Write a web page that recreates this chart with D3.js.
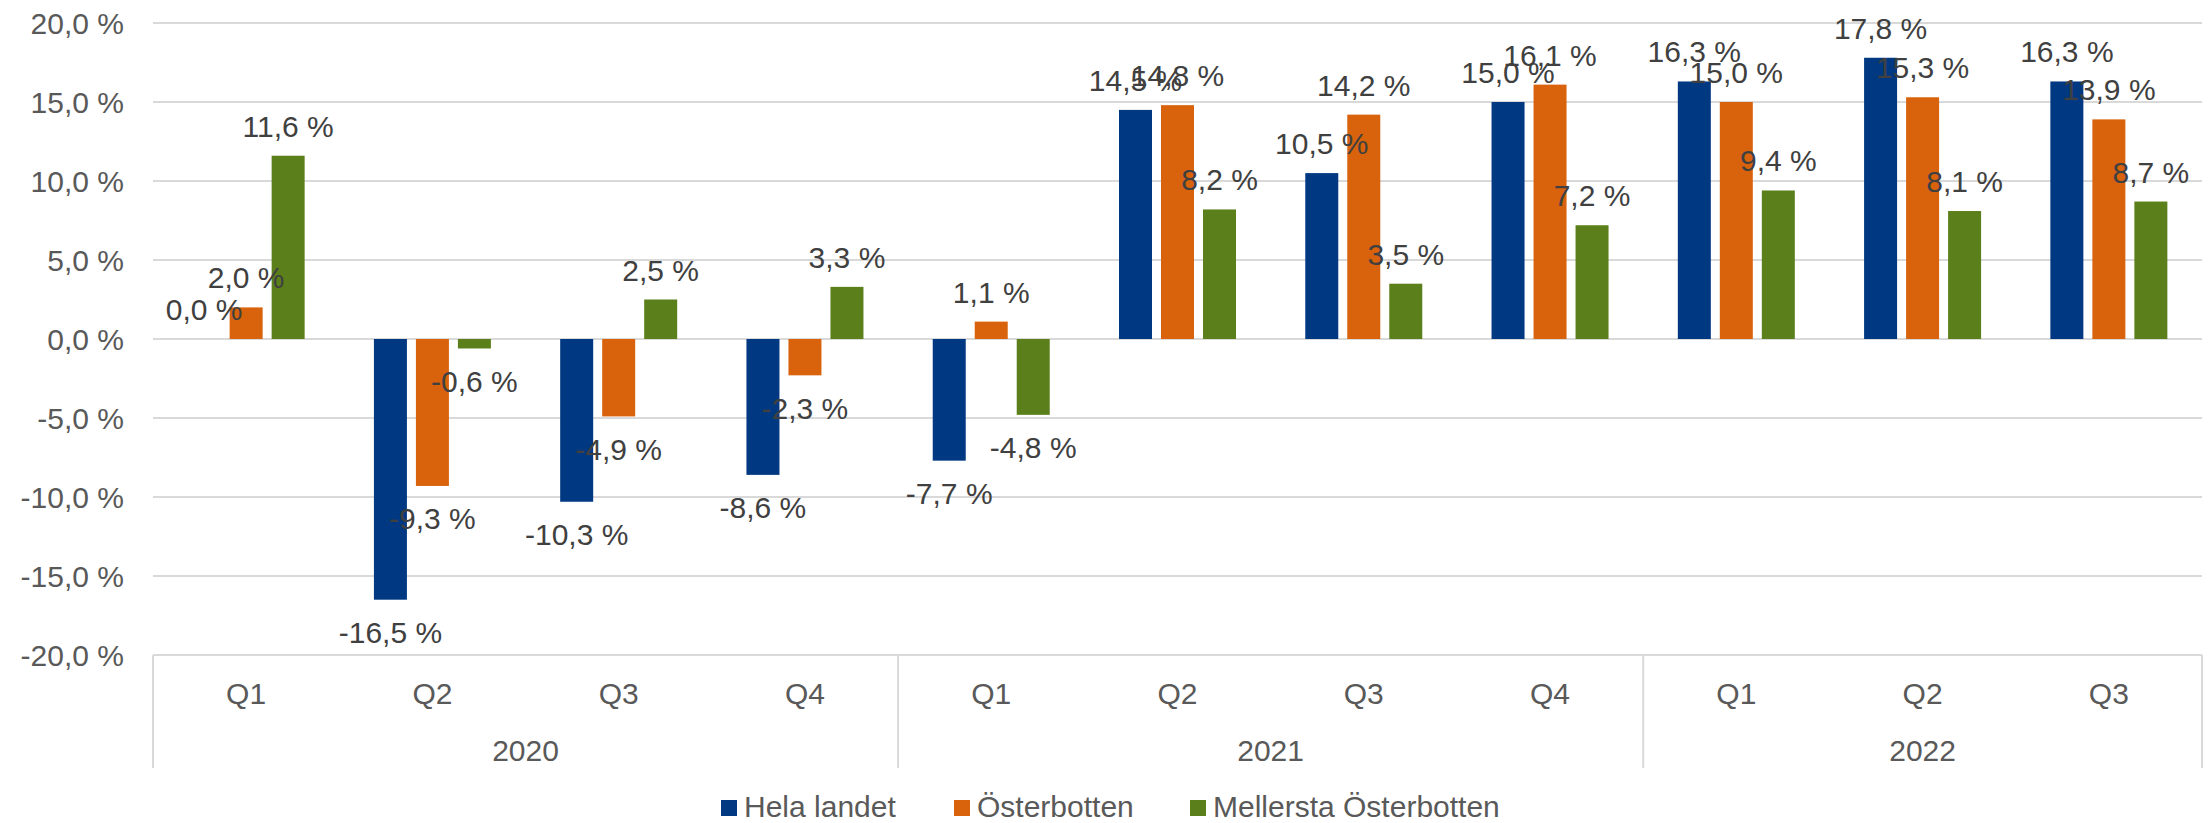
<!DOCTYPE html>
<html>
<head>
<meta charset="utf-8">
<script src="https://cdn.jsdelivr.net/npm/d3@7"></script>
<style>
  body { margin: 0; background: #fff; }
  svg { display: block; font-family: "Liberation Sans", Arial, sans-serif; }
</style>
</head>
<body>
<script>
// DATA
const years = ["2020", "2021", "2022"];
const quarters = ["Q1", "Q2", "Q3", "Q4", "Q1", "Q2", "Q3", "Q4", "Q1", "Q2", "Q3"];
const quarterYear = ["2020", "2020", "2020", "2020", "2021", "2021", "2021", "2021", "2022", "2022", "2022"];
const seriesNames = ["Hela landet", "Österbotten", "Mellersta Österbotten"];
const helaLandet = [0.0, -16.5, -10.3, -8.6, -7.7, 14.5, 10.5, 15.0, 16.3, 17.8, 16.3];
const osterbotten = [2.0, -9.3, -4.9, -2.3, 1.1, 14.8, 14.2, 16.1, 15.0, 15.3, 13.9];
const mellersta = [11.6, -0.6, 2.5, 3.3, -4.8, 8.2, 3.5, 7.2, 9.4, 8.1, 8.7];
const yTicks = [-20, -15, -10, -5, 0, 5, 10, 15, 20];
const colors = ["#003882", "#d9630d", "#5b7f1a"];

const allSeries = [helaLandet, osterbotten, mellersta];

//SIZES
const svgwidth = 2208, svgheight = 823;
const plot = { left: 153, right: 2202, top: 23, bottom: 655 };

const svg = d3.select("body").append("svg")
  .attr("width", svgwidth)
  .attr("height", svgheight);

const fmt = v => d3.format(".1f")(v).replace(".", ",").replace("−", "-") + " %";

//SCALES
const x = d3.scaleBand()
  .domain(d3.range(quarters.length))
  .range([plot.left, plot.right]);

const y = d3.scaleLinear()
  .domain([-20, 20])
  .range([plot.bottom, plot.top]);

const barW = 33, gap = 9;
const groupW = 3 * barW + 2 * gap;
const xs = d3.scaleBand()
  .domain(d3.range(3))
  .range([0, groupW])
  .paddingInner(gap / (barW + gap));

const barX = (i, s) => x(i) + (x.bandwidth() - groupW) / 2 + xs(s);

//GRIDLINES
svg.append("g")
  .selectAll("line")
  .data(yTicks)
  .join("line")
  .attr("x1", plot.left).attr("x2", plot.right)
  .attr("y1", d => y(d)).attr("y2", d => y(d))
  .attr("stroke", "#d9d9d9")
  .attr("stroke-width", 2);

//Y AXIS LABELS
svg.append("g")
  .selectAll("text")
  .data(yTicks)
  .join("text")
  .attr("x", 124)
  .attr("y", d => y(d))
  .attr("dy", "0.35em")
  .attr("text-anchor", "end")
  .attr("font-size", 30)
  .attr("fill", "#595959")
  .text(d => fmt(d));

//BARS
const bars = svg.append("g");
allSeries.forEach((vals, s) => {
  bars.append("g")
    .selectAll("rect")
    .data(vals)
    .join("rect")
    .attr("x", (d, i) => barX(i, s))
    .attr("width", xs.bandwidth())
    .attr("y", d => y(Math.max(0, d)))
    .attr("height", d => Math.abs(y(d) - y(0)))
    .attr("fill", colors[s]);
});

//DATA LABELS (outside end, like the original; some overlap there too)
allSeries.forEach((vals, s) => {
  svg.append("g")
    .selectAll("text")
    .data(vals)
    .join("text")
    .attr("x", (d, i) => barX(i, s) + xs.bandwidth() / 2)
    .attr("y", d => d >= 0 ? y(d) - 29.5 : y(d) + 33)
    .attr("dy", "0.35em")
    .attr("text-anchor", "middle")
    .attr("font-size", 30)
    .attr("fill", "#404040")
    .text(d => fmt(d));
});

//CATEGORY AXIS
const axisG = svg.append("g");
const bounds = [0];
years.forEach(yr => bounds.push(bounds[bounds.length - 1] + quarterYear.filter(q => q === yr).length));

axisG.selectAll("line")
  .data(bounds)
  .join("line")
  .attr("x1", d => plot.left + d * x.step())
  .attr("x2", d => plot.left + d * x.step())
  .attr("y1", plot.bottom)
  .attr("y2", 768)
  .attr("stroke", "#d9d9d9")
  .attr("stroke-width", 2);

axisG.append("g")
  .selectAll("text")
  .data(quarters)
  .join("text")
  .attr("x", (d, i) => x(i) + x.bandwidth() / 2)
  .attr("y", 693.5)
  .attr("dy", "0.35em")
  .attr("text-anchor", "middle")
  .attr("font-size", 30)
  .attr("fill", "#595959")
  .text(d => d);

axisG.append("g")
  .selectAll("text")
  .data(years)
  .join("text")
  .attr("x", (d, i) => plot.left + (bounds[i] + bounds[i + 1]) / 2 * x.step())
  .attr("y", 750)
  .attr("dy", "0.35em")
  .attr("text-anchor", "middle")
  .attr("font-size", 30)
  .attr("fill", "#595959")
  .text(d => d);

//LEGEND
const legendX = [721, 954, 1190];
const legend = svg.append("g")
  .selectAll("g")
  .data(seriesNames)
  .join("g")
  .attr("transform", (d, i) => `translate(${legendX[i]}, 806)`);

legend.append("rect")
  .attr("x", 0).attr("y", -6)
  .attr("width", 16).attr("height", 16)
  .attr("fill", (d, i) => colors[i]);

legend.append("text")
  .attr("x", 23)
  .attr("y", 0)
  .attr("dy", "0.35em")
  .attr("font-size", 30)
  .attr("fill", "#595959")
  .text(d => d);
</script>
</body>
</html>
